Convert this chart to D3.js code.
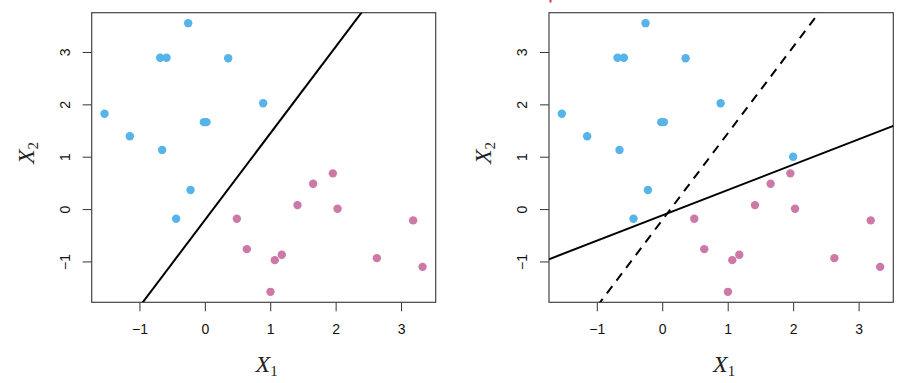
<!DOCTYPE html>
<html>
<head>
<meta charset="utf-8">
<script src="https://cdn.jsdelivr.net/npm/d3@7"></script>
<style>
  html, body { margin: 0; padding: 0; background: #fff; }
  svg { display: block; }
</style>
</head>
<body>
<svg id="chart" width="912" height="383"></svg>
<script>
// ---- data ----
const blueX = [-0.255, -0.683, -0.586, 0.357, 0.892, -1.534, -0.015, 0.025, -1.147, -0.653, -0.219, -0.439];
const blueY = [3.55, 2.89, 2.89, 2.88, 2.02, 1.82, 1.66, 1.66, 1.39, 1.13, 0.363, -0.185];
const extraBlueX = [2.0];
const extraBlueY = [1.0];
const pinkX = [0.489, 0.642, 1.070, 1.177, 1.004, 1.417, 1.656, 1.957, 2.029, 2.63, 3.185, 3.329];
const pinkY = [-0.185, -0.765, -0.975, -0.873, -1.58, 0.076, 0.484, 0.682, 0.006, -0.937, -0.216, -1.103];
// hyperplanes: [intercept, slope]
const lineLeft = [-0.21, 1.654];
const lineRightSolid = [-0.12, 0.484];
const lineRightDashed = [-0.21, 1.654];
const xTicks = [-1, 0, 1, 2, 3];
const yTicks = [-1, 0, 1, 2, 3];
const xDomain = [-1.73, 3.53];
const yDomain = [-1.78, 3.75];

const svg = d3.select("#chart");
const BLUE = "#56B4E9", PINK = "#CC79A7";

function panel(id, x0, x1, blues, lines) {
  const top = 12.7, bottom = 302.3;
  const x = d3.scaleLinear().domain(xDomain).range([x0, x1]);
  const y = d3.scaleLinear().domain(yDomain).range([bottom, top]);
  const g = svg.append("g");

  g.append("clipPath").attr("id", "clip" + id)
    .append("rect").attr("x", x0).attr("y", top).attr("width", x1 - x0).attr("height", bottom - top);

  const fmt = d => d < 0 ? "\u2212" + Math.abs(d) : d;
  // axes
  const xa = g.append("g").attr("transform", `translate(0,${bottom})`)
    .call(d3.axisBottom(x).tickValues(xTicks).tickSize(9).tickPadding(13).tickFormat(fmt));
  const ya = g.append("g").attr("transform", `translate(${x0},0)`)
    .call(d3.axisLeft(y).tickValues(yTicks).tickSize(9).tickFormat(fmt));
  [xa, ya].forEach(a => {
    a.select(".domain").remove();
    a.selectAll(".tick line").attr("stroke", "#333").attr("stroke-width", 1);
    a.selectAll("text").attr("font-family", "'Liberation Sans', Arial, sans-serif")
      .attr("font-size", 14).attr("fill", "#111");
  });
  ya.selectAll(".tick text")
    .attr("text-anchor", "middle")
    .attr("transform", "translate(-27,0) rotate(-90)")
    .attr("x", 0).attr("y", 0).attr("dy", "0.36em");

  // frame
  g.append("rect").attr("x", x0).attr("y", top).attr("width", x1 - x0).attr("height", bottom - top)
    .attr("fill", "none").attr("stroke", "#444").attr("stroke-width", 1.2);

  const plot = g.append("g").attr("clip-path", `url(#clip${id})`);

  lines.forEach(l => {
    const [b, m] = l.coef;
    plot.append("line")
      .attr("x1", x(xDomain[0])).attr("y1", y(b + m * xDomain[0]))
      .attr("x2", x(xDomain[1])).attr("y2", y(b + m * xDomain[1]))
      .attr("stroke", "#000").attr("stroke-width", 2)
      .attr("stroke-dasharray", l.dashed ? "9,7" : null);
  });

  const bluePts = blues.x.map((v, i) => ({ x: v, y: blues.y[i] }));
  const pinkPts = pinkX.map((v, i) => ({ x: v, y: pinkY[i] }));
  plot.selectAll(".b").data(bluePts).enter().append("circle")
    .attr("cx", d => x(d.x)).attr("cy", d => y(d.y)).attr("r", 4.2).attr("fill", BLUE);
  plot.selectAll(".p").data(pinkPts).enter().append("circle")
    .attr("cx", d => x(d.x)).attr("cy", d => y(d.y)).attr("r", 4.2).attr("fill", PINK);

  // axis titles
  const cx = (x0 + x1) / 2 + 3;
  const tx = g.append("text").attr("x", cx).attr("y", 372).attr("text-anchor", "middle")
    .attr("font-family", "'Liberation Serif', 'Times New Roman', serif").attr("fill", "#222");
  tx.append("tspan").attr("font-style", "italic").attr("font-size", 24).text("X");
  tx.append("tspan").attr("font-size", 15).attr("dy", 4).text("1");

  const ty = g.append("text").attr("transform", `translate(${x0 - 58},153) rotate(-90)`)
    .attr("text-anchor", "middle")
    .attr("font-family", "'Liberation Serif', 'Times New Roman', serif").attr("fill", "#222");
  ty.append("tspan").attr("font-style", "italic").attr("font-size", 24).text("X");
  ty.append("tspan").attr("font-size", 15).attr("dy", 4).text("2");
}

panel("L", 91.7, 435.7, { x: blueX, y: blueY }, [{ coef: lineLeft, dashed: false }]);
panel("R", 549, 893.3, { x: blueX.concat(extraBlueX), y: blueY.concat(extraBlueY) },
  [{ coef: lineRightDashed, dashed: true }, { coef: lineRightSolid, dashed: false }]);

// small red fragment at the top edge
svg.append("rect").attr("x", 549.5).attr("y", 0).attr("width", 2).attr("height", 2.5).attr("fill", "#d33");
</script>
</body>
</html>
